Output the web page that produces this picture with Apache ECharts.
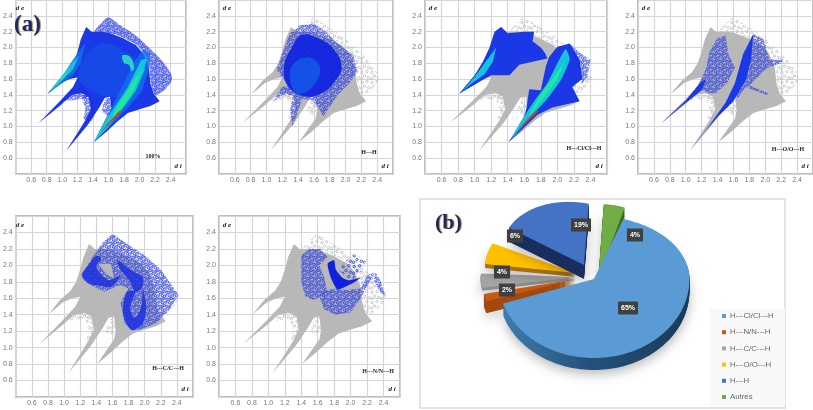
<!DOCTYPE html>
<html>
<head>
<meta charset="utf-8">
<style>
html,body{margin:0;padding:0;background:#fff;}
#main{width:813px;height:410px;filter:blur(0.5px);}
</style>
<script src="https://cdn.jsdelivr.net/npm/echarts@6/dist/echarts.min.js"></script>
</head>
<body>
<div id="main"></div>
<script>
// tick values, panels tags
var tickLabels = ['0.6','0.8','1.0','1.2','1.4','1.6','1.8','2.0','2.2','2.4'];
var panelTags = ['100%','H---H','H---Cl/Cl---H','H---O/O---H','H---C/C---H','H---N/N---H'];

// pie
var pieNames = ['H---Cl/Cl---H','H---N/N---H','H---C/C---H','H---O/O---H','H---H','Autres'];
var pieValues = [65,2,4,6,19,4];

// fingerprint outlines, [di, de]
var outlineAll = [[0.81,1.41],[0.95,1.58],[1.08,1.69],[1.15,1.8],[1.2,1.95],[1.24,2.1],[1.31,2.26],[1.38,2.2],[1.5,2.2],[1.6,2.19],[1.78,2.12],[1.95,2.03],[2.05,1.92],[2.12,1.75],[2.14,1.55],[2.18,1.42],[2.26,1.32],[2.14,1.26],[2.0,1.22],[1.85,1.17],[1.72,1.07],[1.58,0.94],[1.41,0.8],[1.52,0.96],[1.62,1.1],[1.64,1.2],[1.62,1.38],[1.55,1.36],[1.48,1.24],[1.33,1.02],[1.05,0.69],[1.2,0.92],[1.3,1.08],[1.37,1.22],[1.34,1.38],[1.25,1.42],[1.12,1.4],[0.99,1.28],[0.69,1.04],[0.98,1.33],[1.14,1.5],[1.2,1.62],[1.1,1.6],[0.98,1.55],[0.9,1.48]];
var fringeTop = [[1.42,2.2],[1.52,2.32],[1.6,2.38],[1.75,2.28],[1.95,2.15],[2.15,1.97],[2.3,1.82],[2.42,1.62],[2.34,1.48],[2.2,1.4],[2.14,1.6],[2.12,1.8],[2.0,2.0],[1.8,2.12],[1.6,2.19]];
var fringeLeft = [[1.02,1.34],[1.14,1.47],[1.28,1.48],[1.36,1.36],[1.25,1.35],[1.12,1.33]];
var fringeMid = [[1.26,1.35],[1.3,1.42],[1.38,1.36],[1.42,1.2],[1.37,1.06],[1.28,1.1],[1.3,1.22]];
var fringeRight = [[1.52,1.2],[1.56,1.34],[1.63,1.38],[1.65,1.22],[1.6,1.14]];

// panel (a) 100% colour layers
var allLight = [[1.22,1.6],[1.28,1.85],[1.4,2.0],[1.6,2.05],[1.8,1.95],[2.0,1.8],[1.95,1.55],[1.72,1.38],[1.45,1.42]];
var spikeBlue = [[0.81,1.41],[1.0,1.63],[1.12,1.82],[1.3,2.06],[1.24,1.8],[1.14,1.65],[0.96,1.52]];
var spikeCyan = [[0.81,1.41],[0.98,1.62],[1.1,1.76],[1.22,1.9],[1.14,1.72],[1.03,1.61],[0.9,1.49]];
var spikeGreen = [[0.86,1.46],[1.0,1.62],[1.1,1.74],[1.03,1.63],[0.93,1.52]];
var ridgeBlue = [[1.41,0.8],[1.6,0.98],[1.85,1.24],[2.03,1.45],[2.12,1.72],[2.14,1.92],[2.05,1.98],[1.92,1.8],[1.8,1.55],[1.68,1.32],[1.55,1.08]];
var ridgeCyan = [[1.41,0.8],[1.6,1.0],[1.8,1.25],[1.95,1.45],[2.06,1.7],[2.09,1.86],[2.02,1.84],[1.93,1.66],[1.85,1.5],[1.7,1.28],[1.55,1.06]];
var ridgeGreen = [[1.6,1.02],[1.78,1.24],[1.92,1.45],[2.04,1.74],[1.95,1.62],[1.82,1.42],[1.7,1.24]];
var ridgeRed = [[1.5,0.92],[1.7,1.12],[1.78,1.2],[1.74,1.2],[1.6,1.05]];
var loopCyan = [[1.78,1.9],[1.88,1.88],[1.93,1.75],[1.9,1.7],[1.86,1.78],[1.8,1.8]];

// H...H
var hhCloud = [[1.13,1.72],[1.22,1.98],[1.3,2.18],[1.42,2.28],[1.6,2.3],[1.75,2.2],[1.9,2.05],[2.1,1.9],[2.15,1.7],[2.05,1.55],[1.9,1.4],[1.8,1.25],[1.72,1.13],[1.65,1.25],[1.58,1.33],[1.45,1.35],[1.4,1.2],[1.33,1.0],[1.3,1.2],[1.34,1.4],[1.2,1.4],[1.07,1.3],[1.2,1.5],[1.28,1.52],[1.2,1.62]];
var hhBlob = [[1.28,1.5],[1.22,1.75],[1.32,2.0],[1.45,2.16],[1.65,2.12],[1.85,1.98],[1.95,1.75],[1.85,1.55],[1.7,1.42],[1.5,1.38]];
var hhCore = [[1.35,1.45],[1.3,1.7],[1.42,1.85],[1.6,1.85],[1.68,1.7],[1.58,1.5],[1.45,1.42]];

// H...Cl
var clLeft = [[0.81,1.41],[1.0,1.65],[1.1,1.82],[1.18,2.0],[1.24,2.2],[1.32,2.26],[1.4,2.18],[1.6,2.2],[1.72,2.2],[1.7,2.08],[1.8,2.0],[1.85,1.93],[1.88,1.86],[1.7,1.82],[1.54,1.78],[1.45,1.68],[1.42,1.65],[1.2,1.65],[1.08,1.58]];
var clRight = [[1.41,0.8],[1.58,1.08],[1.62,1.2],[1.64,1.33],[1.66,1.47],[1.8,1.46],[1.86,1.76],[1.9,1.88],[2.0,2.01],[2.15,2.05],[2.27,1.84],[2.3,1.6],[2.18,1.5],[2.27,1.32],[2.1,1.28],[1.94,1.24],[1.76,1.15]];
var clFringe = [[2.15,2.05],[2.25,1.95],[2.4,1.84],[2.36,1.62],[2.3,1.55],[2.25,1.75]];
var clLeftCyan = [[0.83,1.42],[1.0,1.63],[1.12,1.8],[1.26,2.0],[1.22,1.82],[1.12,1.66],[0.96,1.54]];
var clRightCyan = [[1.45,0.85],[1.7,1.15],[1.88,1.35],[2.05,1.6],[2.15,1.85],[2.1,1.98],[2.0,1.8],[1.88,1.55],[1.72,1.32],[1.55,1.05]];
var clRightGreen = [[1.65,1.12],[1.85,1.38],[2.0,1.6],[2.08,1.8],[1.95,1.62],[1.78,1.38]];

// H...O
var ooLeft = [[0.69,1.04],[1.0,1.33],[1.18,1.55],[1.26,1.6],[1.2,1.46],[1.08,1.36],[0.95,1.26]];
var ooRight = [[1.05,0.69],[1.3,1.02],[1.5,1.3],[1.62,1.55],[1.72,1.9],[1.85,2.17],[1.82,1.85],[1.76,1.6],[1.6,1.32],[1.42,1.14],[1.26,0.96]];
var ooCloudLeft = [[1.15,1.5],[1.25,1.72],[1.3,1.95],[1.4,2.12],[1.5,2.15],[1.54,1.9],[1.62,1.75],[1.52,1.55],[1.38,1.42],[1.28,1.42]];
var ooCloudRight = [[1.62,1.55],[1.72,1.92],[1.85,2.17],[1.98,2.1],[2.05,1.85],[2.22,1.84],[2.2,1.8],[2.02,1.74],[1.9,1.62],[1.8,1.52],[2.04,1.42],[2.02,1.4],[1.75,1.5],[1.65,1.35]];

// H...C
var ccCloud = [[1.22,1.88],[1.35,2.1],[1.5,2.3],[1.6,2.38],[1.8,2.25],[2.0,2.12],[2.2,1.95],[2.42,1.64],[2.3,1.45],[2.15,1.3],[1.95,1.22],[1.85,1.21],[1.75,1.3],[1.7,1.55],[1.8,1.72],[1.7,1.76],[1.5,1.68],[1.35,1.75]];
var ccLobeA = [[1.22,1.88],[1.3,2.0],[1.4,2.12],[1.46,2.08],[1.4,1.98],[1.55,1.82],[1.7,1.88],[1.58,1.74],[1.4,1.76],[1.3,1.78]];
var ccLobeB = [[1.66,2.06],[1.85,1.93],[1.98,1.85],[1.96,1.72],[1.88,1.68],[1.82,1.8],[1.7,1.95]];
var ccLobeC = [[1.74,1.55],[1.73,1.42],[1.78,1.28],[1.85,1.21],[1.98,1.3],[2.02,1.5],[1.98,1.7],[1.96,1.5],[1.88,1.36],[1.82,1.48],[1.88,1.68],[1.78,1.68]];
var ccGap = [[1.42,2.02],[1.52,1.9],[1.62,1.84],[1.58,2.02]];

// H...N
var nnLobeA = [[1.4,2.12],[1.5,2.2],[1.63,2.2],[1.72,2.1],[1.62,2.0],[1.68,1.85],[1.72,1.66],[1.55,1.58],[1.45,1.62],[1.4,1.8]];
var nnLobeB = [[1.62,1.62],[1.68,1.46],[1.82,1.4],[2.0,1.43],[2.12,1.6],[2.3,1.92],[2.2,1.88],[2.12,1.72],[1.95,1.7],[1.82,1.72],[1.72,1.7]];
var nnFringe = [[2.3,1.92],[2.36,1.82],[2.43,1.62],[2.36,1.68],[2.28,1.82]];
var nnUpper = [[1.85,1.95],[2.02,2.14],[2.2,2.08],[2.12,1.92],[2.0,1.8]];
var nnCore = [[1.72,2.02],[1.76,1.85],[1.84,1.71],[2.0,1.77],[2.12,1.85],[1.98,1.82],[1.9,1.85],[1.82,1.95],[1.8,2.06]];

var gray = '#b8b8b8', fringeGray = '#bdbdbd';
var blue = '#1a38e6', blueDark = '#0f22e0', blueLight = '#1272ee', cyan = '#14c4dc', green = '#22e89a', red = '#c2452a';

// grid boxes of the six plots
var boxes = [
  {left:12, top:-1, width:174, height:175},
  {left:219, top:-1, width:174, height:175},
  {left:425, top:-1, width:182, height:175},
  {left:638, top:-1, width:175, height:175},
  {left:12, top:216, width:181, height:181},
  {left:219, top:216, width:181, height:181}
];

// small tile of open circles, used as fill for the dotted parts of the clouds
function tile(color, size) {
  var c = document.createElement('canvas');
  c.width = size; c.height = size;
  var ctx = c.getContext('2d');
  ctx.strokeStyle = color;
  ctx.lineWidth = 0.8;
  [[0.2,0.25],[0.7,0.15],[0.45,0.6],[0.85,0.75],[0.15,0.85]].forEach(function (p) {
    ctx.beginPath();
    ctx.arc(p[0] * size, p[1] * size, 1.2, 0, Math.PI * 2);
    ctx.stroke();
  });
  return {image:c, repeat:'repeat'};
}
var dottedGray = tile(fringeGray, 10);
var dottedBlue = tile('#1a30e8', 7);
var dottedBlueThin = tile('#1a30e8', 11);

var chart = echarts.init(document.getElementById('main'));
var grids = [], xAxes = [], yAxes = [], series = [];

function axis(idx) {
  return {
    type:'value', gridIndex:idx, min:0.4, max:2.6, interval:0.2,
    axisLine:{show:false}, axisTick:{show:false},
    axisLabel:{
      fontSize:7, color:'#777', margin:3, fontFamily:'Liberation Sans',
      showMinLabel:false, showMaxLabel:false,
      formatter:function (v) {
        var s = v.toFixed(1);
        return tickLabels.indexOf(s) >= 0 ? s : '';
      }
    },
    splitLine:{show:true, lineStyle:{color:'#d2d4de', width:1.2}}
  };
}

function area(idx, pts, color, z, opacity, smooth) {
  series.push({
    type:'custom', xAxisIndex:idx, yAxisIndex:idx, data:pts, z:z, silent:true,
    renderItem:function (params, api) {
      if (params.dataIndex !== 0) return;
      var p = [];
      for (var i = 0; i < pts.length; i++) p.push(api.coord(pts[i]));
      return {type:'polygon', shape:{points:p, smooth:smooth || 0}, style:{fill:color, opacity:opacity == null ? 1 : opacity}};
    }
  });
}

function grayBase(idx) {
  area(idx, outlineAll, gray, 3);
  [fringeTop, fringeLeft, fringeMid, fringeRight].forEach(function (f) {
    area(idx, f, dottedGray, 3, 1, 0.3);
  });
}

for (var g = 0; g < boxes.length; g++) {
  var b = boxes[g];
  grids.push({left:b.left, top:b.top, width:b.width, height:b.height, show:true, borderColor:'#a9a9a9', borderWidth:1.5, backgroundColor:'#fff'});
  xAxes.push(axis(g));
  yAxes.push(axis(g));
}

// (a) 100%
area(0, outlineAll, blue, 3);
[fringeLeft, fringeMid, fringeRight].forEach(function (f) { area(0, f, dottedBlue, 3, 1, 0.3); });
area(0, fringeTop, dottedBlue, 3, 1, 0.3);
area(0, fringeTop, blue, 3, 0.25, 0.3);
area(0, allLight, blueLight, 4, 0.3, 0.4);
area(0, ridgeBlue, blueLight, 4, 0.8);
area(0, spikeBlue, blueLight, 4, 0.8);
area(0, ridgeCyan, cyan, 5);
area(0, spikeCyan, cyan, 5);
area(0, ridgeGreen, green, 6);
area(0, spikeGreen, green, 6);
area(0, loopCyan, '#2ad0c8', 6, 1, 0.4);
area(0, ridgeRed, red, 7);

// H...H
grayBase(1);
area(1, hhCloud, dottedBlue, 4);
area(1, hhBlob, blueDark, 4, 0.92, 0.4);
area(1, hhCore, blueLight, 5, 0.55, 0.4);

// H...Cl
grayBase(2);
area(2, clLeft, blue, 4);
area(2, clRight, blue, 4);
area(2, clFringe, dottedBlue, 4);
area(2, clLeftCyan, cyan, 5);
area(2, clRightCyan, cyan, 5, 1, 0.15);
area(2, clRightGreen, green, 6, 1, 0.15);
area(2, ridgeRed, red, 7);

// H...O
grayBase(3);
area(3, ooCloudLeft, dottedBlue, 4);
area(3, ooCloudRight, dottedBlue, 4);
area(3, ooLeft, blue, 5);
area(3, ooRight, blue, 5);

// H...C
grayBase(4);
area(4, ccCloud, dottedBlue, 4);
area(4, ccGap, gray, 4);
area(4, ccLobeA, '#1c30e0', 5, 0.85, 0.3);
area(4, ccLobeB, '#1c30e0', 5, 0.85, 0.3);
area(4, ccLobeC, '#1c30e0', 5, 0.85, 0.3);

// H...N
grayBase(5);
area(5, nnLobeA, dottedBlue, 4);
area(5, nnLobeB, dottedBlue, 4);
area(5, nnFringe, dottedBlue, 4);
area(5, nnUpper, dottedBlueThin, 4);
area(5, nnCore, '#0f22e0', 5, 1, 0.2);

// pie: hand placed exploded slices, ellipse squashed by the picture's tilt
var pieColors = ['#5a9bd5','#c55a11','#a5a5a5','#ffc000','#4472c4','#70ad47'];
var pieWalls = ['#1f4266','#a34a0e','#8f8f8f','#a5701a','#1b2f5e','#3f6b26'];
var sliceBox = [
  {cx:594, cy:279, rx:95.5, up:63, down:79, skew:0, depth:12, z:16},
  {cx:575.7, cy:279, rx:94, up:63, down:72, skew:0, depth:12, z:14},
  {cx:575.7, cy:277, rx:95, up:63, down:57, skew:0, depth:3, z:12},
  {cx:575.7, cy:273, rx:90.7, up:63, down:60, skew:0.055, depth:4, z:13},
  {cx:584, cy:265, rx:83, up:62, down:62, skew:0.143, depth:14, z:15},
  {cx:598.3, cy:279, rx:87, up:75, down:75, skew:0, depth:10, z:15}
];
var labelBox = [[628,308],[507,290],[502,272],[515,236],[581,225],[635,235]];
var startAngle = 18;

function slicePoints(k, from, to) {
  var s = sliceBox[k], pts = [[s.cx, s.cy]];
  for (var a = from; a <= to + 0.001; a += 2) {
    var r = a * Math.PI / 180, dx = Math.sin(r) * s.rx, c = Math.cos(r);
    pts.push([s.cx + dx, s.cy - c * (c > 0 ? s.up : s.down) + dx * s.skew]);
  }
  return pts;
}

var acc = startAngle;
pieValues.forEach(function (v, k) {
  var from = acc, to = acc + v * 3.6;
  acc = to;
  series.push({
    type:'custom', name:pieNames[k], coordinateSystem:'none', data:[[v]], z:sliceBox[k].z, silent:true,
    itemStyle:{color:pieColors[k]},
    renderItem:function () {
      var pts = slicePoints(k, from, to), kids = [], d = sliceBox[k].depth;
      var wall = k === 0 ? new echarts.graphic.LinearGradient(0,0,1,0,[{offset:0,color:'#3f7cae'},{offset:0.45,color:'#24527c'},{offset:1,color:'#1b3a58'}]) : pieWalls[k];
      for (var i = d; i >= 1; i--) {
        var moved = pts.map(function (p) { return [p[0], p[1] + i]; });
        var st = {fill:wall};
        if (i === d) { st.shadowBlur = 12; st.shadowColor = 'rgba(0,0,0,0.28)'; st.shadowOffsetY = 4; }
        kids.push({type:'polygon', shape:{points:moved}, style:st});
      }
      kids.push({type:'polygon', shape:{points:pts}, style:{fill:pieColors[k]}});
      return {type:'group', children:kids};
    }
  });
});

series.push({
  type:'custom', coordinateSystem:'none', data:pieValues, z:20, silent:true,
  renderItem:function (params, api) {
    var i = params.dataIndex;
    return {type:'text', x:labelBox[i][0], y:labelBox[i][1], style:{
      text:pieValues[i] + '%', fill:'#fff', font:'bold 7px "Liberation Sans"', align:'center', verticalAlign:'middle',
      backgroundColor:'#404040', padding:[3,3,3,3]
    }};
  }
});

var texts = [];
function tag(x, y, text, font, color, align) {
  texts.push({type:'text', x:x, y:y, z:30, style:{text:text, font:font, fill:color || '#222', align:align || 'center', verticalAlign:'middle'}});
}
var de = 'italic bold 7px "Liberation Serif"';
boxes.forEach(function (b, i) {
  tag(b.left + 8, b.top + 9, 'd e', de);
  tag(b.left + b.width - 8, b.top + b.height - 8, 'd i', de);
});
var tagFont = 'bold 6px "Liberation Serif"';
tag(153,156,panelTags[0],tagFont);
tag(369,152,panelTags[1],tagFont);
tag(584,148,panelTags[2],tagFont);
tag(788,149,panelTags[3],tagFont);
tag(168,368,panelTags[4],tagFont);
tag(378,371,panelTags[5],tagFont);

texts.push({type:'rect', z:0, shape:{x:420,y:199,width:365,height:209}, style:{fill:'#fff', stroke:'#dcdcdc', lineWidth:1.5}});
texts.push({type:'rect', z:0, shape:{x:710,y:309,width:75,height:97}, style:{fill:'#f8f8f8'}});
texts.push({type:'text', x:14, y:25, z:30, style:{text:'(a)', font:'bold 23px "Liberation Serif"', fill:'#1b2a68', verticalAlign:'middle', textShadowColor:'#b88a3a', textShadowBlur:1, textShadowOffsetX:1}});
texts.push({type:'text', x:435, y:223, z:30, style:{text:'(b)', font:'bold 22px "Liberation Serif"', fill:'#1b2a68', verticalAlign:'middle', textShadowColor:'#b88a3a', textShadowBlur:1, textShadowOffsetX:1}});

chart.setOption({
  animation:false,
  backgroundColor:'#fff',
  grid:grids, xAxis:xAxes, yAxis:yAxes,
  legend:{
    orient:'vertical', left:722, top:312, z:25, itemGap:8.2, padding:0,
    data:pieNames, icon:'rect', itemWidth:4, itemHeight:4, selectedMode:false,
    textStyle:{fontSize:7.8, color:'#666', fontFamily:'Liberation Sans', padding:[0,0,0,-1]}
  },
  graphic:texts,
  series:series
});
</script>
</body>
</html>
